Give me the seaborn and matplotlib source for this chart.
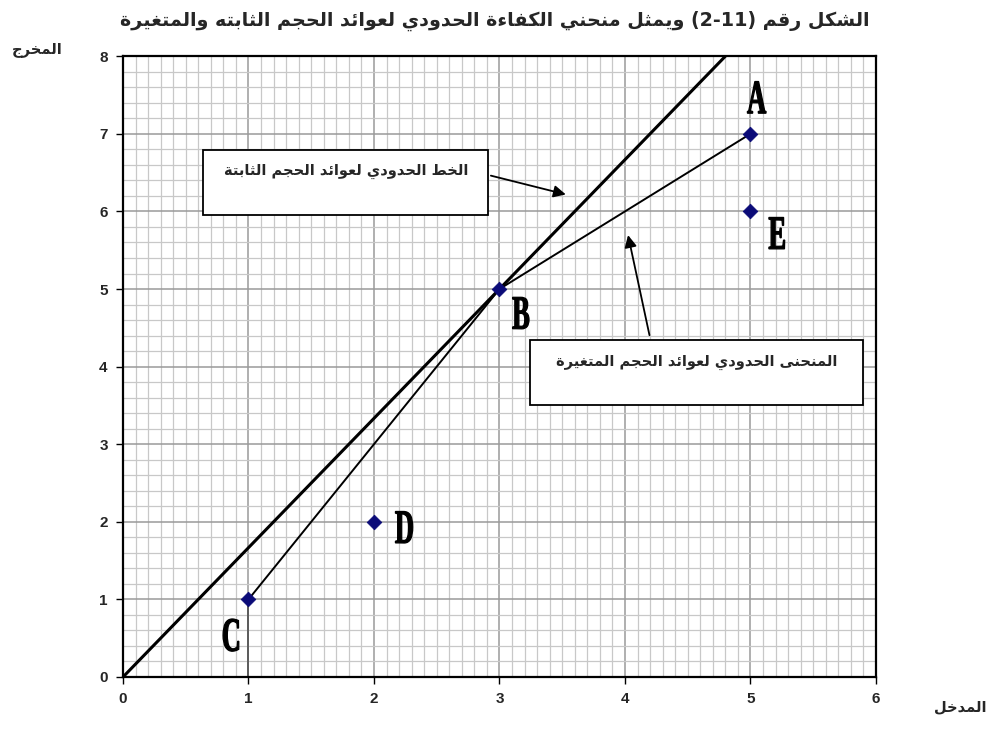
import re
import numpy as np
import pandas as pd
import matplotlib
matplotlib.use("Agg")
import matplotlib.pyplot as plt
import seaborn as sns
from matplotlib.patches import Rectangle, PathPatch
from matplotlib.textpath import TextPath
from matplotlib.font_manager import FontProperties
from matplotlib.transforms import Affine2D, ScaledTranslation

# ---- data ----
point_labels = ['A', 'B', 'C', 'D', 'E']
point_x = [5, 3, 1, 2, 5]
point_y = [7, 5, 1, 2, 6]

# constant returns frontier: ray from the origin through B
crs_x = [0, 3, 4.8]
crs_y = [0, 5, 8]

# variable returns frontier: C -> B -> A
vrs_x = [1, 3, 5]
vrs_y = [1, 5, 7]

# drop line under C
drop_x = [1, 1]
drop_y = [0, 1]

x_ticks = [0, 1, 2, 3, 4, 5, 6]
y_ticks = [0, 1, 2, 3, 4, 5, 6, 7, 8]

title_txt = 'الشكل رقم (2-11) ويمثل منحني الكفاءة الحدودي لعوائد الحجم الثابته والمتغيرة'
xlabel_txt = 'المدخل'
ylabel_txt = 'المخرج'
crs_note = 'الخط الحدودي لعوائد الحجم الثابتة'
vrs_note = 'المنحنى الحدودي لعوائد الحجم المتغيرة'

# ---- tiny arabic shaper (matplotlib does no shaping / bidi) ----
_DUAL = {'ئ': 0xFE89, 'ب': 0xFE8F, 'ت': 0xFE95, 'ث': 0xFE99, 'ج': 0xFE9D,
         'ح': 0xFEA1, 'خ': 0xFEA5, 'س': 0xFEB1, 'ش': 0xFEB5, 'ص': 0xFEB9,
         'ض': 0xFEBD, 'ط': 0xFEC1, 'ظ': 0xFEC5, 'ع': 0xFEC9, 'غ': 0xFECD,
         'ف': 0xFED1, 'ق': 0xFED5, 'ك': 0xFED9, 'ل': 0xFEDD, 'م': 0xFEE1,
         'ن': 0xFEE5, 'ه': 0xFEE9, 'ي': 0xFEF1}
_RIGHT = {'آ': 0xFE81, 'أ': 0xFE83, 'ؤ': 0xFE85, 'إ': 0xFE87, 'ا': 0xFE8D,
          'ة': 0xFE93, 'د': 0xFEA9, 'ذ': 0xFEAB, 'ر': 0xFEAD, 'ز': 0xFEAF,
          'و': 0xFEED, 'ى': 0xFEEF}
_MIRROR = {'(': ')', ')': '('}


def shape(s):
    out = []
    for i, c in enumerate(s):
        if c == 'ء':
            out.append(chr(0xFE80))
            continue
        base = _DUAL.get(c, _RIGHT.get(c))
        if base is None:
            out.append(c)
            continue
        prev = i > 0 and s[i - 1] in _DUAL
        nxt = c in _DUAL and i + 1 < len(s) and (s[i + 1] in _DUAL or s[i + 1] in _RIGHT)
        off = 3 if (prev and nxt) else 1 if prev else 2 if nxt else 0
        out.append(chr(base + off))
    return ''.join(out)


def ar(s):
    runs = re.findall(r'[0-9A-Za-z\-\.]+|[^0-9A-Za-z\-\.]+', shape(s))
    vis = []
    for r in reversed(runs):
        if re.match(r'[0-9A-Za-z]', r):
            vis.append(r)
        else:
            vis.append(''.join(_MIRROR.get(c, c) for c in reversed(r)))
    return ''.join(vis)


def tall_letter(ax, s, x, y, size=48, squeeze=0.55):
    tp = TextPath((0, 0), s, size=size,
                  prop=FontProperties(family='Liberation Serif', weight='bold'))
    ext = tp.get_extents()
    cx, cy = (ext.x0 + ext.x1) / 2, (ext.y0 + ext.y1) / 2
    tr = Affine2D().translate(-cx, -cy).scale(squeeze, 1.0) + ScaledTranslation(x, y, ax.transData)
    ax.add_patch(PathPatch(tp, transform=tr, facecolor='black', edgecolor='black',
                           lw=0.9, zorder=6))


pts = pd.DataFrame({'x': point_x, 'y': point_y, 'label': point_labels})

sns.set_style('white')
plt.rcParams['font.family'] = ['DejaVu Sans']

fig = plt.figure(figsize=(9.92, 7.39), dpi=100)
ax = fig.add_axes([0.124, 0.0839, 0.759, 0.840])

# grid paper
ax.set_xticks(np.arange(0, 6.001, 0.1), minor=True)
ax.set_yticks(np.arange(0, 8.001, 0.2), minor=True)
ax.set_xticks(x_ticks)
ax.set_yticks(y_ticks)
ax.grid(which='minor', color='#c8c8c8', lw=0.9)
ax.grid(which='major', color='#9a9a9a', lw=1.1)
ax.set_axisbelow(True)

sns.lineplot(x=drop_x, y=drop_y, ax=ax, color='#555555', lw=1.3, sort=False, estimator=None)
sns.lineplot(x=crs_x, y=crs_y, ax=ax, color='black', lw=2.2, sort=False, estimator=None)
sns.lineplot(x=vrs_x, y=vrs_y, ax=ax, color='black', lw=1.4, sort=False, estimator=None)
sns.scatterplot(data=pts, x='x', y='y', ax=ax, marker='D', s=55,
                color='#0b0b78', edgecolor='#0b0b78', zorder=5)

# point letters (tall condensed serif)
label_pos = {'A': (5.05, 7.47), 'B': (3.17, 4.69), 'C': (0.86, 0.54),
             'D': (2.24, 1.93), 'E': (5.21, 5.72)}
for lab in point_labels:
    tall_letter(ax, lab, *label_pos[lab])

# note boxes
ax.add_patch(Rectangle((0.64, 5.95), 2.27, 0.84, facecolor='white',
                       edgecolor='black', lw=1.3, zorder=6))
ax.text(1.78, 6.51, ar(crs_note), ha='center', va='center', fontsize=10.5,
        fontweight='bold', zorder=7)
ax.add_patch(Rectangle((3.24, 3.51), 2.66, 0.83, facecolor='white',
                       edgecolor='black', lw=1.3, zorder=6))
ax.text(4.57, 4.05, ar(vrs_note), ha='center', va='center', fontsize=10.5,
        fontweight='bold', zorder=7)

ax.annotate('', xy=(3.55, 6.21), xytext=(2.91, 6.47), zorder=8,
            arrowprops=dict(arrowstyle='-|>', color='black', lw=1.3, mutation_scale=18))
ax.annotate('', xy=(4.02, 5.73), xytext=(4.20, 4.37), zorder=8,
            arrowprops=dict(arrowstyle='-|>', color='black', lw=1.3, mutation_scale=18))

ax.set_xlim(0, 6)
ax.set_ylim(0, 8)
ax.set_xlabel('')
ax.set_ylabel('')
for sp in ax.spines.values():
    sp.set_visible(True)
    sp.set_color('black')
    sp.set_linewidth(1.6)
ax.tick_params(which='major', direction='out', length=5, width=1, color='black',
               labelsize=11, pad=6, bottom=True, left=True)
ax.tick_params(which='minor', length=0)
for t in ax.get_xticklabels() + ax.get_yticklabels():
    t.set_fontfamily('Liberation Sans')
    t.set_fontweight('bold')

fig.text(0.499, 0.972, ar(title_txt), ha='center', va='center', fontsize=13.8,
         fontweight='bold')
fig.text(0.968, 0.043, ar(xlabel_txt), ha='center', va='center', fontsize=10.5,
         fontweight='bold')
fig.text(0.038, 0.933, ar(ylabel_txt), ha='center', va='center', fontsize=10.5,
         fontweight='bold')

fig.savefig('out.png', dpi=100)
